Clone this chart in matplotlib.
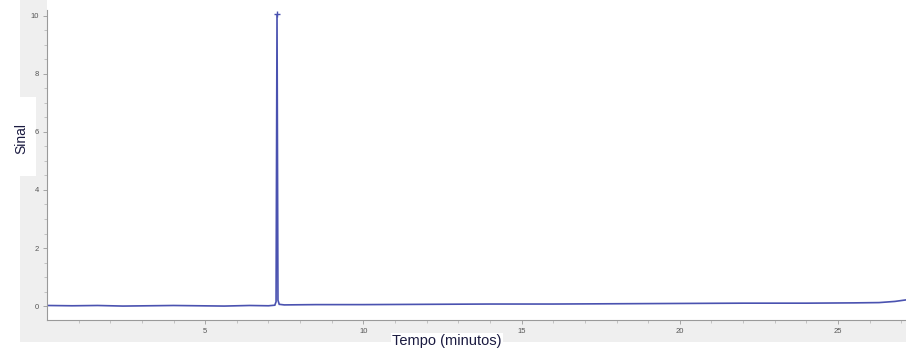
import matplotlib
matplotlib.use("Agg")
import matplotlib.pyplot as plt
from matplotlib.patches import Rectangle

# Data
tempo = [0.0, 0.8, 1.6, 2.4, 3.2, 4.0, 4.8, 5.6, 6.4, 7.0, 7.2, 7.24, 7.27, 7.30, 7.34,
         7.5, 8.5, 10.0, 12.0, 14.0, 16.0, 18.0, 20.0, 22.0, 24.0, 25.5, 26.3, 26.8, 27.2]
sinal = [0.02, 0.01, 0.02, 0.00, 0.01, 0.02, 0.01, 0.00, 0.02, 0.01, 0.03, 0.15, 10.05, 0.20, 0.06,
         0.04, 0.05, 0.05, 0.06, 0.07, 0.07, 0.08, 0.09, 0.10, 0.10, 0.11, 0.12, 0.16, 0.22]
x_ticks = [5, 10, 15, 20, 25]
y_ticks = [0, 2, 4, 6, 8, 10]

plt.rcParams["font.family"] = ["Liberation Sans", "DejaVu Sans"]

fig = plt.figure(figsize=(9.06, 3.52), dpi=100, facecolor="white")

# light grey frame of the original screenshot (left column and bottom strip)
W, H = 906, 352
fig.patches.append(Rectangle((20/W, 10/H), (47 - 20)/W, 1 - 10/H,
                             transform=fig.transFigure, facecolor="#efefef",
                             edgecolor="none", zorder=-5))
fig.patches.append(Rectangle((20/W, 10/H), 1 - 20/W, (342 - 320)/H + 0.001,
                             transform=fig.transFigure, facecolor="#efefef",
                             edgecolor="none", zorder=-5))
# white box behind the y label
fig.patches.append(Rectangle((8/W, 1 - 176/H), (36 - 8)/W, (176 - 97)/H,
                             transform=fig.transFigure, facecolor="white",
                             edgecolor="none", zorder=-4))

ax = fig.add_axes([47/W, 32/H, 1 - 47/W, (320 - 10)/H])
ax.set_zorder(1)
ax.set_facecolor("white")
ax.plot(tempo, sinal, color="#4a52b0", lw=1.2, solid_joinstyle="miter")
ax.plot([7.27], [10.05], marker="+", color="#4a52b0", ms=4, mew=1)

ax.set_xlim(0, 27.15)
ax.set_ylim(-0.48, 10.2)
ax.set_xticks(x_ticks)
ax.set_yticks(y_ticks)
ax.set_xticks([i for i in range(1, 28)], minor=True)
ax.set_yticks([i * 0.5 for i in range(0, 21)], minor=True)
for s in ["top", "right"]:
    ax.spines[s].set_visible(False)
for s in ["left", "bottom"]:
    ax.spines[s].set_color("#9a9a9a")
    ax.spines[s].set_linewidth(0.8)
ax.tick_params(axis="both", which="major", labelsize=5.5, colors="#9a9a9a",
               labelcolor="#555555", length=3, width=0.6, pad=3)
ax.tick_params(axis="both", which="minor", colors="#b0b0b0", length=2, width=0.5)

fig.text(21/W, 1 - 138/H, "Sinal", rotation=90, ha="center", va="center",
         fontsize=10, color="#1a1a40", zorder=5)
fig.text(447/W, 1 - 341/H, "Tempo (minutos)", ha="center", va="center",
         fontsize=10.5, color="#1a1a40",
         bbox=dict(facecolor="white", edgecolor="none", pad=1), zorder=5)

fig.savefig("out.png", dpi=100, facecolor="white")
